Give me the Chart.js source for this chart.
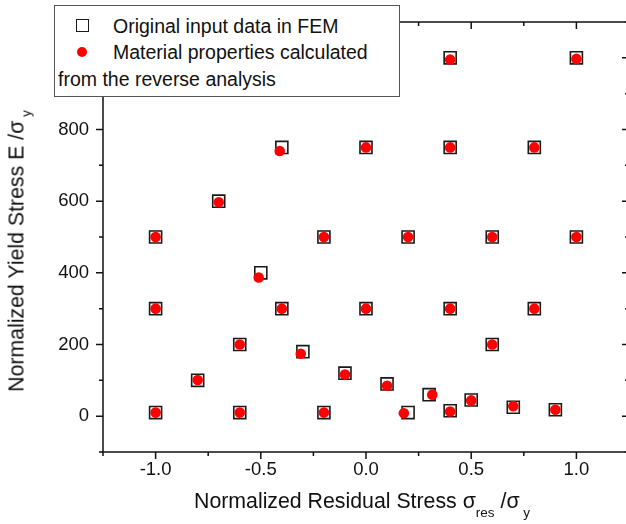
<!DOCTYPE html>
<html>
<head>
<meta charset="utf-8">
<script src="https://cdn.jsdelivr.net/npm/chart.js@4.4.1/dist/chart.umd.min.js"></script>
<style>
body { margin: 0; overflow: hidden; background: #fff; font-family: "Liberation Sans", Arial, sans-serif; color: #111; }
#wrap { position: relative; width: 640px; height: 524px; }
.abs { position: absolute; white-space: nowrap; }
#legend { position: absolute; left: 54px; top: 5px; width: 346px; height: 92px; box-sizing: border-box; border: 1px solid #555; background: #fff; }
.leg { font-size: 19.5px; line-height: 26px; }
.sq { position: absolute; width: 13px; height: 13px; box-sizing: border-box; border: 1.6px solid #1a1a1a; }
.dot { position: absolute; width: 10px; height: 10px; border-radius: 50%; background: #f00; }
.title { font-size: 21.3px; line-height: 24px; }
.sub { font-size: 13.5px; position: relative; }
</style>
</head>
<body>
<div id="wrap">
    <canvas id="chart" width="640" height="524"></canvas>
    <div id="legend"></div>
    <div class="sq" style="left:76px; top:19px;"></div>
    <div class="abs leg" style="left:113px; top:12.5px;">Original input data in FEM</div>
    <div class="dot" style="left:77px; top:47px;"></div>
    <div class="abs leg" style="left:113px; top:39px;">Material properties calculated</div>
    <div class="abs leg" style="left:58px; top:66px;">from the reverse analysis</div>
    <div class="abs title" style="left:194px; top:489px;">Normalized Residual Stress σ<span class="sub" style="top:9px;">res</span> /σ<span class="sub" style="top:9px;"> y</span></div>
    <div class="abs title" style="left:17.5px; top:251px; transform: translate(-50%, -50%) rotate(-90deg);">Normalized Yield Stress E /σ<span class="sub" style="top:7px;"> y</span></div>
</div>
<script>
// original FEM input (squares)
const inputX = [0.4, 1.0, -0.4, 0.0, 0.4, 0.8, -0.7, -1.0, -0.2, 0.2, 0.6, 1.0, -0.5,
    -1.0, -0.4, 0.0, 0.4, 0.8, -0.6, 0.6, -0.3, -0.1, -0.8, 0.1, 0.3, 0.5, 0.7, 0.9,
    -1.0, -0.6, -0.2, 0.2, 0.4];
const inputY = [1000, 1000, 750, 750, 750, 750, 600, 500, 500, 500, 500, 500, 400,
    300, 300, 300, 300, 300, 200, 200, 180, 120, 100, 90, 60, 45, 25, 18,
    10, 10, 10, 10, 15];

// values from the reverse analysis (red dots)
const calcX = [0.4, 1.0, -0.41, 0.0, 0.4, 0.8, -0.7, -1.0, -0.2, 0.2, 0.6, 1.0, -0.51,
    -1.0, -0.4, 0.0, 0.4, 0.8, -0.6, 0.6, -0.31, -0.1, -0.8, 0.1, 0.315, 0.5, 0.7, 0.9,
    -1.0, -0.6, -0.2, 0.18, 0.4];
const calcY = [995, 997, 740, 750, 750, 750, 597, 500, 500, 500, 500, 500, 387,
    300, 300, 300, 300, 300, 200, 200, 174, 116, 101, 85, 60, 44, 28, 18,
    10, 10, 10, 8, 13];

const xTickLabels = [-1.0, -0.5, 0.0, 0.5, 1.0];
const yTickLabels = [0, 200, 400, 600, 800];

const tickFont = { family: "'Liberation Sans', Arial, sans-serif", size: 18.5 };

function isMajorX(v) {
    return xTickLabels.some(t => Math.abs(t - v) < 1e-6);
}

function isMajorY(v) {
    return Math.abs(v % 200) < 1e-6;
}

const framePlugin = {
    id: "frame",
    beforeDatasetsDraw(chart) {
        const { ctx, chartArea: a, scales: { x, y } } = chart;
        ctx.save();
        ctx.strokeStyle = "#111";
        ctx.lineWidth = 1.5;
        ctx.strokeRect(a.left, a.top, a.right - a.left, a.bottom - a.top);
        ctx.beginPath();
        x.ticks.forEach(t => {
            const px = x.getPixelForValue(t.value);
            const len = isMajorX(t.value) ? 7 : 4;
            ctx.moveTo(px, a.bottom);
            ctx.lineTo(px, a.bottom + len);
            ctx.moveTo(px, a.top);
            ctx.lineTo(px, a.top + len);
        });
        y.ticks.forEach(t => {
            const py = y.getPixelForValue(t.value);
            const len = isMajorY(t.value) ? 7 : 4;
            ctx.moveTo(a.left, py);
            ctx.lineTo(a.left - len, py);
            ctx.moveTo(a.right, py);
            ctx.lineTo(a.right - len, py);
        });
        ctx.stroke();
        ctx.restore();
    }
};

const ctx = document.getElementById("chart").getContext("2d");

new Chart(ctx, {
    type: "scatter",
    data: {
        datasets: [
            {
                label: "Material properties calculated from the reverse analysis",
                data: calcX.map((x, i) => ({ x, y: calcY[i] })),
                pointStyle: "circle",
                pointRadius: 5.3,
                backgroundColor: "#f00",
                borderWidth: 0,
                order: 0
            },
            {
                label: "Original input data in FEM",
                data: inputX.map((x, i) => ({ x, y: inputY[i] })),
                pointStyle: "rect",
                pointRadius: 8.5,
                borderColor: "#1a1a1a",
                borderWidth: 1.6,
                backgroundColor: "rgba(255,255,255,0)",
                order: 1
            }
        ]
    },
    options: {
        responsive: false,
        animation: false,
        devicePixelRatio: 1,
        events: [],
        layout: { padding: { top: 22, right: 11, left: 0, bottom: 0 } },
        plugins: { legend: { display: false }, tooltip: { enabled: false } },
        scales: {
            x: {
                type: "linear",
                min: -1.25,
                max: 1.25,
                grid: { display: false, drawTicks: false },
                border: { display: false },
                ticks: {
                    stepSize: 0.25,
                    autoSkip: false,
                    maxRotation: 0,
                    padding: 7,
                    color: "#111",
                    font: tickFont,
                    callback: v => isMajorX(v) ? v.toFixed(1) : ""
                },
                afterFit: s => { s.height = 72; s.paddingLeft = 0; s.paddingRight = 0; }
            },
            y: {
                min: -100,
                max: 1100,
                grid: { display: false, drawTicks: false },
                border: { display: false },
                ticks: {
                    stepSize: 100,
                    autoSkip: false,
                    padding: 14,
                    color: "#111",
                    font: tickFont,
                    callback: v => yTickLabels.includes(v) ? String(v) : ""
                },
                afterFit: s => { s.width = 103; s.paddingTop = 0; s.paddingBottom = 0; }
            }
        }
    },
    plugins: [framePlugin]
});
</script>
</body>
</html>
